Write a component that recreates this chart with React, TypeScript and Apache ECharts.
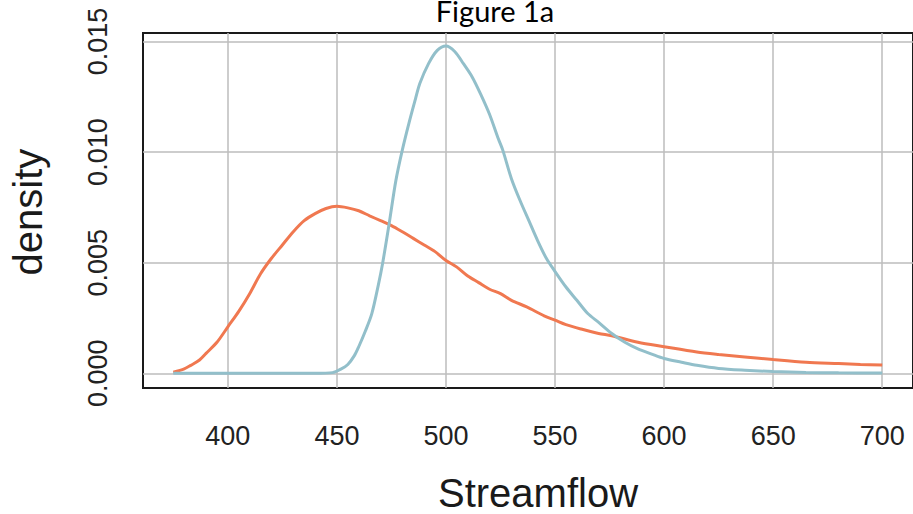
import React, { useEffect, useRef } from "react";
import * as echarts from "echarts";

const titleText = "Figure 1a";
const xName = "Streamflow";
const yName = "density";

const xTicks = [400, 450, 500, 550, 600, 650, 700];
const yTicks = [0, 0.005, 0.01, 0.015];

const orangeX = [375, 380, 383, 387, 390, 395, 400, 405, 410, 415, 420, 425, 430, 435, 440, 445, 450, 455, 460, 465, 470, 475, 480, 485, 490, 495, 500, 505, 510, 515, 520, 525, 530, 537, 545, 550, 555, 562, 570, 576, 588, 600, 615, 625, 637, 650, 665, 680, 690, 700];
const orangeY = [0.00005, 0.0002, 0.00036, 0.0006, 0.0009, 0.0014, 0.0021, 0.0028, 0.0036, 0.0045, 0.0052, 0.0058, 0.0064, 0.0069, 0.00722, 0.00745, 0.00755, 0.00748, 0.00735, 0.00712, 0.0069, 0.00668, 0.0064, 0.0061, 0.0058, 0.0055, 0.0051, 0.0048, 0.0044, 0.0041, 0.0038, 0.0036, 0.0033, 0.003, 0.0026, 0.0024, 0.0022, 0.002, 0.0018, 0.0017, 0.0014, 0.0012, 0.00096, 0.00085, 0.00074, 0.00062, 0.0005, 0.00044, 0.0004, 0.00037];

const blueX = [375, 400, 440, 448, 452, 455, 458, 460, 463, 466, 469, 471, 474, 477, 480, 483, 486, 488, 492, 496, 500, 504, 508, 512, 516, 520, 524, 526, 530, 534, 538, 542, 546, 550, 555, 560, 565, 570, 576, 582, 588, 594, 600, 608, 615, 625, 637, 650, 665, 680, 700];
const blueY = [0, 0, 0, 0.00003, 0.0002, 0.0004, 0.0008, 0.0012, 0.0019, 0.0027, 0.004, 0.005, 0.0068, 0.0087, 0.0101, 0.0113, 0.0124, 0.0131, 0.014, 0.0146, 0.0148, 0.01455, 0.014, 0.0134, 0.0126, 0.0117, 0.0106, 0.0101, 0.0088, 0.0078, 0.0069, 0.006, 0.0052, 0.0046, 0.0039, 0.0033, 0.0027, 0.0023, 0.0018, 0.0014, 0.0011, 0.00088, 0.00067, 0.0005, 0.00036, 0.00022, 0.00014, 0.00008, 0.00004, 0.00002, 0.00001];

const narrowFont = "'Liberation Sans Narrow', 'Arial Narrow', 'Liberation Sans', Arial, sans-serif";
const sansFont = "'Liberation Sans', Arial, sans-serif";

export default function App() {
  const ref = useRef<HTMLDivElement>(null);
  useEffect(() => {
    if (!ref.current) return;
    const chart = echarts.init(ref.current, undefined, { renderer: "svg" });
    const zip = (xs: number[], ys: number[]) => xs.map((x, i) => [x, ys[i]]);
    chart.setOption({
      animation: false,
      backgroundColor: "#ffffff",
      grid: {
        left: 143,
        top: 33,
        width: 772,
        height: 355,
        show: true,
        borderColor: "#1a1a1a",
        borderWidth: 2,
        backgroundColor: "transparent",
      },
      xAxis: {
        type: "value",
        min: 361.1,
        max: 714.1,
        axisLine: { show: false },
        axisTick: { show: false, customValues: xTicks },
        axisLabel: {
          customValues: xTicks,
          fontFamily: narrowFont,
          fontSize: 27,
          color: "#222",
          margin: 34,
        },
        splitLine: { show: true, lineStyle: { color: "#bdbdbd", width: 1.5 } },
      },
      yAxis: {
        type: "value",
        min: -0.000665,
        max: 0.015385,
        axisLine: { show: false },
        axisTick: { show: false, customValues: yTicks },
        axisLabel: {
          customValues: yTicks,
          rotate: 90,
          fontFamily: narrowFont,
          fontSize: 27,
          color: "#222",
          margin: 32,
          formatter: (v: number) => v.toFixed(3),
        },
        splitLine: { show: true, lineStyle: { color: "#bdbdbd", width: 1.5 } },
      },
      graphic: [
        {
          type: "text",
          x: 495,
          y: 10,
          style: {
            text: titleText,
            fontFamily: "Lato, 'Open Sans', sans-serif",
            fontSize: 29,
            lineHeight: 18,
            fill: "#000",
            textAlign: "center",
            textVerticalAlign: "middle",
          },
        },
        {
          type: "text",
          x: 538,
          y: 493,
          style: {
            text: xName,
            fontFamily: sansFont,
            fontSize: 40,
            lineHeight: 34,
            fill: "#1a1a1a",
            textAlign: "center",
            textVerticalAlign: "middle",
          },
        },
        {
          type: "text",
          x: 28,
          y: 212,
          rotation: Math.PI / 2,
          style: {
            text: yName,
            fontFamily: sansFont,
            fontSize: 40,
            fill: "#1a1a1a",
            textAlign: "center",
            textVerticalAlign: "middle",
          },
        },
      ],
      series: [
        {
          type: "line",
          data: zip(orangeX, orangeY),
          smooth: 0.3,
          showSymbol: false,
          lineStyle: { color: "#f07850", width: 3 },
          z: 3,
        },
        {
          type: "line",
          data: zip(blueX, blueY),
          smooth: 0.3,
          showSymbol: false,
          lineStyle: { color: "#92bfca", width: 3 },
          z: 4,
        },
      ],
    });
    return () => chart.dispose();
  }, []);
  return <div ref={ref} style={{ width: 913, height: 514, position: "fixed", left: 0, top: 0 }} />;
}
